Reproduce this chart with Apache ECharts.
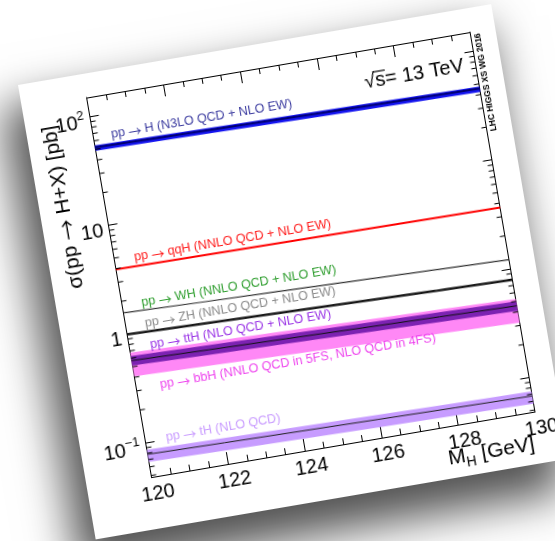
<!DOCTYPE html>
<html><head><meta charset="utf-8">
<script src="https://cdn.jsdelivr.net/npm/echarts@6/dist/echarts.min.js"></script>
<style>
html,body{margin:0;padding:0;background:#fff;width:555px;height:541px;overflow:hidden;}
#paper{position:absolute;left:18.4px;top:85.3px;width:480px;height:461px;background:#fff;
transform-origin:0 0;transform:rotate(-9.7deg);box-shadow:-14px 26px 42px 6px rgba(0,0,0,0.68);filter:blur(0.3px);}
</style></head><body><div id="paper"></div>
<script>
// ---- data ----
const massPoints = [120, 122, 124, 126, 128, 130];
const ggH   = [52.2, 50.7, 49.3, 47.9, 46.6, 45.3];
const ggHUp = [54.6, 53.0, 51.5, 50.1, 48.7, 47.3];
const ggHDn = [48.5, 47.2, 45.8, 44.5, 43.3, 42.1];
const qqH   = [3.935, 3.875, 3.812, 3.752, 3.692, 3.637];
const WH    = [1.565, 1.484, 1.410, 1.340, 1.272, 1.209];
const ZH    = [0.994, 0.947, 0.903, 0.862, 0.823, 0.790];
const ttH   = [0.570, 0.543, 0.519, 0.496, 0.475, 0.454];
const ttHUp = [0.627, 0.597, 0.571, 0.546, 0.522, 0.499];
const ttHDn = [0.513, 0.489, 0.467, 0.446, 0.427, 0.409];
const bbH   = [0.553, 0.525, 0.500, 0.476, 0.453, 0.430];
const bbHUp = [0.675, 0.641, 0.610, 0.581, 0.553, 0.525];
const bbHDn = [0.409, 0.389, 0.370, 0.352, 0.335, 0.318];
const tH    = [0.0783, 0.0758, 0.0735, 0.0713, 0.0692, 0.0673];
const tHUp  = [0.0861, 0.0834, 0.0809, 0.0784, 0.0761, 0.0740];
const tHDn  = [0.0666, 0.0644, 0.0625, 0.0606, 0.0588, 0.0572];
const xTickLabels = [120, 122, 124, 126, 128, 130];
const yMajorTicks = [0.1, 1, 10, 100];
const yMinorTicks = [0.05,0.06,0.07,0.08,0.09, 0.2,0.3,0.4,0.5,0.6,0.7,0.8,0.9,
                     2,3,4,5,6,7,8,9, 20,30,40,50,60,70,80,90];
const yMin = 0.0483, yMax = 150;
const processNames = {
  ggH: 'H (N3LO QCD + NLO EW)',
  qqH: 'qqH (NNLO QCD + NLO EW)',
  WH:  'WH (NNLO QCD + NLO EW)',
  ZH:  'ZH (NNLO QCD + NLO EW)',
  ttH: 'ttH (NLO QCD + NLO EW)',
  bbH: 'bbH (NNLO QCD in 5FS, NLO QCD in 4FS)',
  tH:  'tH (NLO QCD)'
};

// ---- layout ----
const F = '"Liberation Sans", Arial, Helvetica, sans-serif';
const FA = '"Noto Sans CJK JP", "DejaVu Sans", sans-serif';
const GL = 65.5, GT = 24, GW = 389, GH = 385;
const chart = echarts.init(document.getElementById('paper'), null, {renderer:'canvas'});

function pairs(arr){ return massPoints.map((m,i)=>[m, arr[i]]); }
function band(up, dn, color, z){
  return {type:'custom', xAxisIndex:0, yAxisIndex:0, z:z, silent:true, animation:false,
    data:[[massPoints[0], up[0]]],
    renderItem:function(params, api){
      const pts=[];
      for(let i=0;i<massPoints.length;i++) pts.push(api.coord([massPoints[i], up[i]]));
      for(let i=massPoints.length-1;i>=0;i--) pts.push(api.coord([massPoints[i], dn[i]]));
      return {type:'polygon', shape:{points:pts}, style:{fill:color}};
    }};
}
function line(arr, color, width, z){
  return {type:'line', xAxisIndex:0, yAxisIndex:0, data:pairs(arr), showSymbol:false, z:z,
    silent:true, lineStyle:{color:color, width:width}, animation:false};
}
const minorTickSeries = {type:'custom', xAxisIndex:0, yAxisIndex:0, z:20, silent:true,
  data: yMinorTicks.map(v=>[120, v]),
  renderItem:function(params, api){
    const v = api.value(1);
    const pl = api.coord([120, v]), pr = api.coord([130, v]);
    return {type:'group', children:[
      {type:'line', shape:{x1:pl[0], y1:pl[1], x2:pl[0]+5, y2:pl[1]}, style:{stroke:'#000', lineWidth:1}},
      {type:'line', shape:{x1:pr[0], y1:pr[1], x2:pr[0]-5, y2:pr[1]}, style:{stroke:'#000', lineWidth:1}}
    ]};
  }};

function yFmt(v){
  const e = Math.log10(v), r = Math.round(e);
  if (Math.abs(e-r) > 1e-6) return '';
  if (!yMajorTicks.some(t=>Math.abs(Math.log10(t)-r)<1e-6)) return '';
  if (r === 0) return '{b|1}';
  if (r === 1) return '{b|10}';
  return '{b|10}{s|' + (r < 0 ? '\u2212' + (-r) : r) + '}';
}
const axisLineStyle = {color:'#000', width:1};
const xBase = {type:'value', min:120, max:130, interval:2,
  axisLine:{show:true, onZero:false, lineStyle:axisLineStyle},
  axisTick:{show:true, inside:true, length:12, lineStyle:{color:'#000'}},
  minorTick:{show:true, splitNumber:4, length:6, lineStyle:{color:'#000'}},
  splitLine:{show:false}, minorSplitLine:{show:false}};
const yBase = {type:'log', logBase:10, min:yMin, max:yMax,
  axisLine:{show:true, onZero:false, lineStyle:axisLineStyle},
  axisTick:{show:true, inside:true, length:9, lineStyle:{color:'#000'}},
  splitLine:{show:false}};

const measure = (function(){ const c=document.createElement('canvas').getContext('2d');
  return function(t, font){ c.font=font; return c.measureText(t).width; }; })();

function lab(key, u, v, color){
  return {type:'text', x:GL+u, y:GT+v, silent:true, z:100,
    style:{text:'{t|pp }{a|\u2192}{t| ' + processNames[key] + '}', align:'left', verticalAlign:'middle',
      textAlign:'left', textVerticalAlign:'middle',
      rich:{t:{fontSize:12.6, fontFamily:F, fill:color, color:color},
            a:{fontSize:13, fontFamily:FA, fill:color, color:color}}}};
}
const sqFont = '20px ' + F;
const sqR = GL + 377, sqY = GT + 32;
const wRest = measure('s= 13 TeV', sqFont), wS = measure('s', sqFont);

const option = {
  animation:false,
  textStyle:{fontFamily:F},
  grid:{left:GL, top:GT, width:GW, height:GH, containLabel:false, outerBoundsMode:'none'},
  xAxis:[
    Object.assign({}, xBase, {position:'bottom',
      axisLabel:{show:true, margin:4, padding:[3,0,0,8], fontSize:20, color:'#000', fontFamily:F, showMinLabel:true, showMaxLabel:true,
        formatter:function(v){ return xTickLabels.indexOf(v) >= 0 ? String(v) : ''; }}}),
    Object.assign({}, xBase, {position:'top', axisLabel:{show:false}})
  ],
  yAxis:[
    Object.assign({}, yBase, {position:'left',
      axisLabel:{show:true, margin:6, padding:[10,0,0,0], color:'#000', fontFamily:F, formatter:yFmt,
        rich:{b:{fontSize:20, lineHeight:26, fontFamily:F, color:'#000'},
              s:{fontSize:13, lineHeight:13, verticalAlign:'top', fontFamily:F, color:'#000'}}}}),
    Object.assign({}, yBase, {position:'right', axisLabel:{show:false}})
  ],
  series:[
    band(bbHUp, bbHDn, '#ff88f6', 2),
    band(ttHUp, ttHDn, '#7c22b2', 3),
    band(tHUp, tHDn, '#c79cff', 3),
    band(ggHUp, ggHDn, '#1414f0', 3),
    line(ggH, '#000070', 2, 4),
    line(qqH, '#ff0000', 2, 4),
    line(WH, '#303030', 1.2, 4),
    line(ZH, '#1a1a1a', 2.4, 4),
    line(ttH, '#111111', 1, 5),
    line(tH, '#222222', 1, 5),
    minorTickSeries
  ],
  graphic:[
    lab('ggH', 18, 41, '#3c3ca0'),
    lab('qqH', 20, 166, '#ff1a1a'),
    lab('WH', 19.5, 212, '#2f9e2f'),
    lab('ZH', 19.5, 233, '#8a8a8a'),
    lab('ttH', 21, 255, '#9a34e6'),
    lab('bbH', 24, 296, '#ee44ee'),
    lab('tH', 21, 349, '#c99cff'),
    {type:'text', x:sqR - wRest, y:sqY, silent:true,
      style:{text:'\u221A', fill:'#000', font:sqFont, align:'right', verticalAlign:'middle', textAlign:'right', textVerticalAlign:'middle'}},
    {type:'text', x:sqR, y:sqY, silent:true,
      style:{text:'s= 13 TeV', fill:'#000', font:sqFont, align:'right', verticalAlign:'middle', textAlign:'right', textVerticalAlign:'middle'}},
    {type:'line', silent:true, shape:{x1:sqR - wRest - 1, y1:sqY - 9, x2:sqR - wRest + wS + 1, y2:sqY - 9},
      style:{stroke:'#000', lineWidth:1.2}},
    {type:'text', x:GL + 396, y:GT + 52, rotation:Math.PI/2, silent:true,
      style:{text:'LHC HIGGS XS WG 2016', fill:'#000', font:'bold 8.5px ' + F, align:'center', verticalAlign:'middle', textAlign:'center', textVerticalAlign:'middle'}},
    {type:'text', x:GL - 41, y:GT + 104, rotation:Math.PI/2, silent:true,
      style:{text:'{t|\u03C3(pp }{a|\u2192}{t| H+X) [pb]}', align:'center', verticalAlign:'middle', textAlign:'center', textVerticalAlign:'middle',
        rich:{t:{fontSize:21, fontFamily:F, fill:'#000', color:'#000'}, a:{fontSize:21, fontFamily:FA, fill:'#000', color:'#000'}}}},
    {type:'text', x:GL + 383, y:GT + 417, silent:true,
      style:{text:'{m|M}{h|H}{m| [GeV]}', align:'right', verticalAlign:'middle', textAlign:'right', textVerticalAlign:'middle',
        rich:{m:{fontSize:21, lineHeight:28, fontFamily:F, fill:'#000', color:'#000'},
              h:{fontSize:14, lineHeight:14, verticalAlign:'bottom', fontFamily:F, fill:'#000', color:'#000'}}}}
  ]
};
chart.setOption(option);
</script></body></html>
